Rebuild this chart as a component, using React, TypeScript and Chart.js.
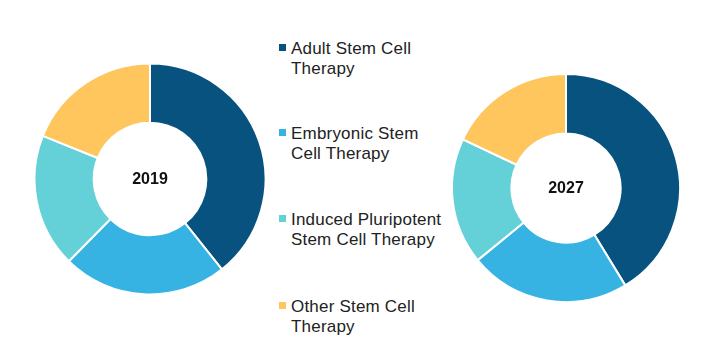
import React, { useEffect, useRef } from "react";
import { Chart, registerables } from "chart.js";

Chart.register(...registerables);

const categories = [
  "Adult Stem Cell Therapy",
  "Embryonic Stem Cell Therapy",
  "Induced Pluripotent Stem Cell Therapy",
  "Other Stem Cell Therapy",
];
const legendLines = [
  ["Adult Stem Cell", "Therapy"],
  ["Embryonic Stem", "Cell Therapy"],
  ["Induced Pluripotent", "Stem Cell Therapy"],
  ["Other Stem Cell", "Therapy"],
];
const colors = ["#08527f", "#36b2e3", "#64d0d8", "#fec65d"];
const values2019 = [39.3, 23.1, 18.7, 18.9];
const values2027 = [41.3, 22.8, 17.9, 18.0];

const FONT = "'Liberation Sans', Arial, sans-serif";

function Donut(props: {
  values: number[];
  label: string;
  left: number;
  top: number;
  size: number;
  radius: number;
  cutout: number;
}) {
  const ref = useRef<HTMLCanvasElement | null>(null);
  useEffect(() => {
    if (!ref.current) return;
    const centerText = {
      id: "centerText",
      afterDatasetsDraw(chart: any) {
        const meta = chart.getDatasetMeta(0);
        const arc = meta.data[0];
        if (!arc) return;
        const ctx = chart.ctx;
        ctx.save();
        ctx.font = `bold 16px ${FONT}`;
        ctx.fillStyle = "#111";
        ctx.textAlign = "center";
        ctx.textBaseline = "middle";
        ctx.fillText(props.label, arc.x, arc.y + 1);
        ctx.restore();
      },
    };
    const chart = new Chart(ref.current, {
      type: "doughnut",
      data: {
        labels: categories,
        datasets: [
          {
            data: props.values,
            backgroundColor: colors,
            borderColor: "#ffffff",
            borderWidth: 2,
            hoverOffset: 0,
          },
        ],
      },
      options: {
        animation: false,
        responsive: false,
        maintainAspectRatio: false,
        radius: props.radius,
        cutout: props.cutout,
        layout: { padding: 0 },
        plugins: {
          legend: { display: false },
          tooltip: { enabled: false },
        },
      } as any,
      plugins: [centerText],
    });
    return () => chart.destroy();
  }, []);
  return (
    <canvas
      ref={ref}
      width={props.size}
      height={props.size}
      style={{
        position: "absolute",
        left: props.left,
        top: props.top,
        width: props.size,
        height: props.size,
      }}
    />
  );
}

const legendTops = [38.5, 123.5, 209.5, 296.5];

export default function App() {
  return (
    <div
      style={{
        position: "fixed",
        left: 0,
        top: 0,
        width: 727,
        height: 362,
        background: "#ffffff",
        overflow: "hidden",
      }}
    >
      <Donut values={values2019} label="2019" left={29.7} top={58.8} size={240} radius={115.5} cutout={58} />
      <Donut values={values2027} label="2027" left={446.3} top={67.5} size={240} radius={114} cutout={57} />
      {legendLines.map((lines, i) => (
        <div
          key={i}
          style={{
            position: "absolute",
            left: 279,
            top: legendTops[i],
            fontFamily: FONT,
            fontSize: 17,
            lineHeight: "20.5px",
            letterSpacing: "0.2px",
            color: "#222",
            whiteSpace: "nowrap",
          }}
        >
          <span
            style={{
              position: "absolute",
              left: 0,
              top: 5.5,
              width: 7,
              height: 7,
              background: colors[i],
            }}
          />
          <div style={{ marginLeft: 12 }}>
            {lines.map((l, j) => (
              <div key={j}>{l}</div>
            ))}
          </div>
        </div>
      ))}
    </div>
  );
}
